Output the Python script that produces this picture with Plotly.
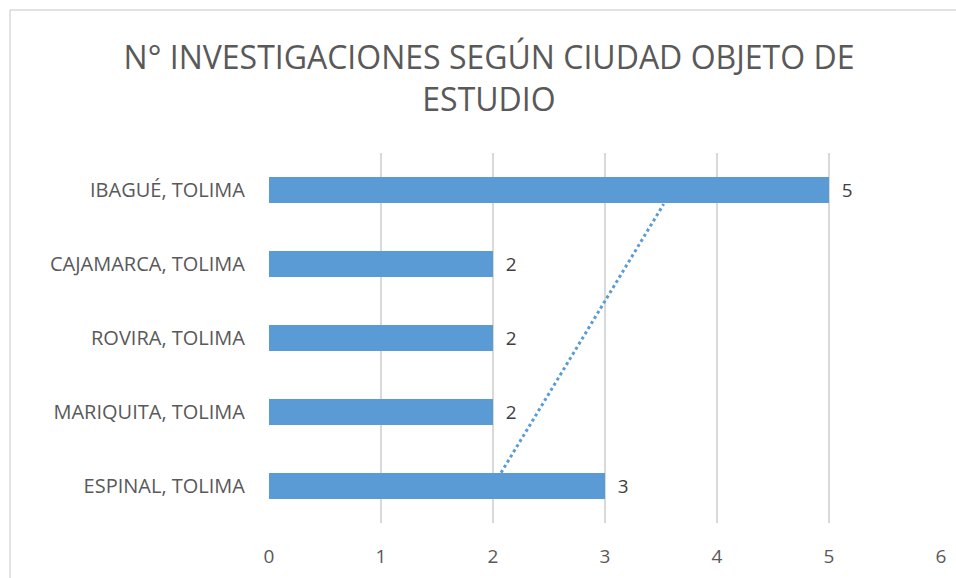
import numpy as np
import plotly.graph_objects as go

# data, bottom to top as in the chart
cities = [
    "ESPINAL, TOLIMA",
    "MARIQUITA, TOLIMA",
    "ROVIRA, TOLIMA",
    "CAJAMARCA, TOLIMA",
    "IBAGUÉ, TOLIMA",
]
counts = [3, 2, 2, 2, 5]
x_ticks = [0, 1, 2, 3, 4, 5, 6]

TITLE = "N° INVESTIGACIONES SEGÚN CIUDAD OBJETO DE<br>ESTUDIO"
BAR_COLOR = "#5b9bd5"
FONT = "Open Sans"

W, H = 956, 578
L, R, T, B = 269, 15, 153, 55


def px_to_paper(px, py):
    pw = W - L - R
    ph = H - T - B
    return (px - L) / pw, (H - B - py) / ph


pos = np.arange(len(cities))

# linear trendline (Excel style), fitted on category index 1..n
idx = pos + 1
slope, intercept = np.polyfit(idx, counts, 1)
t_idx = np.array([idx[0] + 0.18, idx[-1] - 0.19])
t_val = slope * t_idx + intercept

fig = go.Figure()

fig.add_trace(
    go.Bar(
        x=counts,
        y=pos,
        orientation="h",
        marker=dict(color=BAR_COLOR, line=dict(width=0)),
        text=[f"  {c}" for c in counts],
        textposition="outside",
        textfont=dict(family=FONT, size=19, color="#404040"),
        cliponaxis=False,
        showlegend=False,
    )
)

fig.add_trace(
    go.Scatter(
        x=t_val,
        y=t_idx - 1,
        mode="lines",
        line=dict(color=BAR_COLOR, width=3, dash="dot"),
        showlegend=False,
    )
)

# chart border (top and left edges visible)
x_left, y_top = px_to_paper(10, 10)
x_right, y_bot = px_to_paper(W + 5, H + 5)
border = dict(color="#d9d9d9", width=1.5)
fig.add_shape(type="line", xref="paper", yref="paper",
              x0=x_left, x1=x_right, y0=y_top, y1=y_top, line=border)
fig.add_shape(type="line", xref="paper", yref="paper",
              x0=x_left, x1=x_left, y0=y_top, y1=y_bot, line=border)

fig.update_layout(
    width=W,
    height=H,
    margin=dict(l=L, r=R, t=T, b=B, autoexpand=False),
    paper_bgcolor="white",
    plot_bgcolor="white",
    bargap=0.65,
    title=dict(
        text=TITLE,
        x=0.5115,
        xanchor="center",
        y=0.88,
        yanchor="middle",
        font=dict(family=FONT, size=32, color="#595959"),
    ),
    xaxis=dict(
        range=[0, 6],
        tickvals=x_ticks,
        showgrid=True,
        gridcolor="#d9d9d9",
        gridwidth=1.5,
        zeroline=False,
        showline=False,
        ticks="",
        ticklabelstandoff=20,
        tickfont=dict(family=FONT, size=19, color="#595959"),
    ),
    yaxis=dict(
        range=[-0.5, len(cities) - 0.5],
        tickvals=pos,
        ticktext=cities,
        showgrid=False,
        zeroline=False,
        showline=False,
        ticks="",
        ticklabelstandoff=23,
        tickfont=dict(family=FONT, size=20, color="#595959"),
    ),
)

fig.write_html(
    "out.html",
    config={"displayModeBar": False},
    post_script="document.body.style.margin='0';",
)
